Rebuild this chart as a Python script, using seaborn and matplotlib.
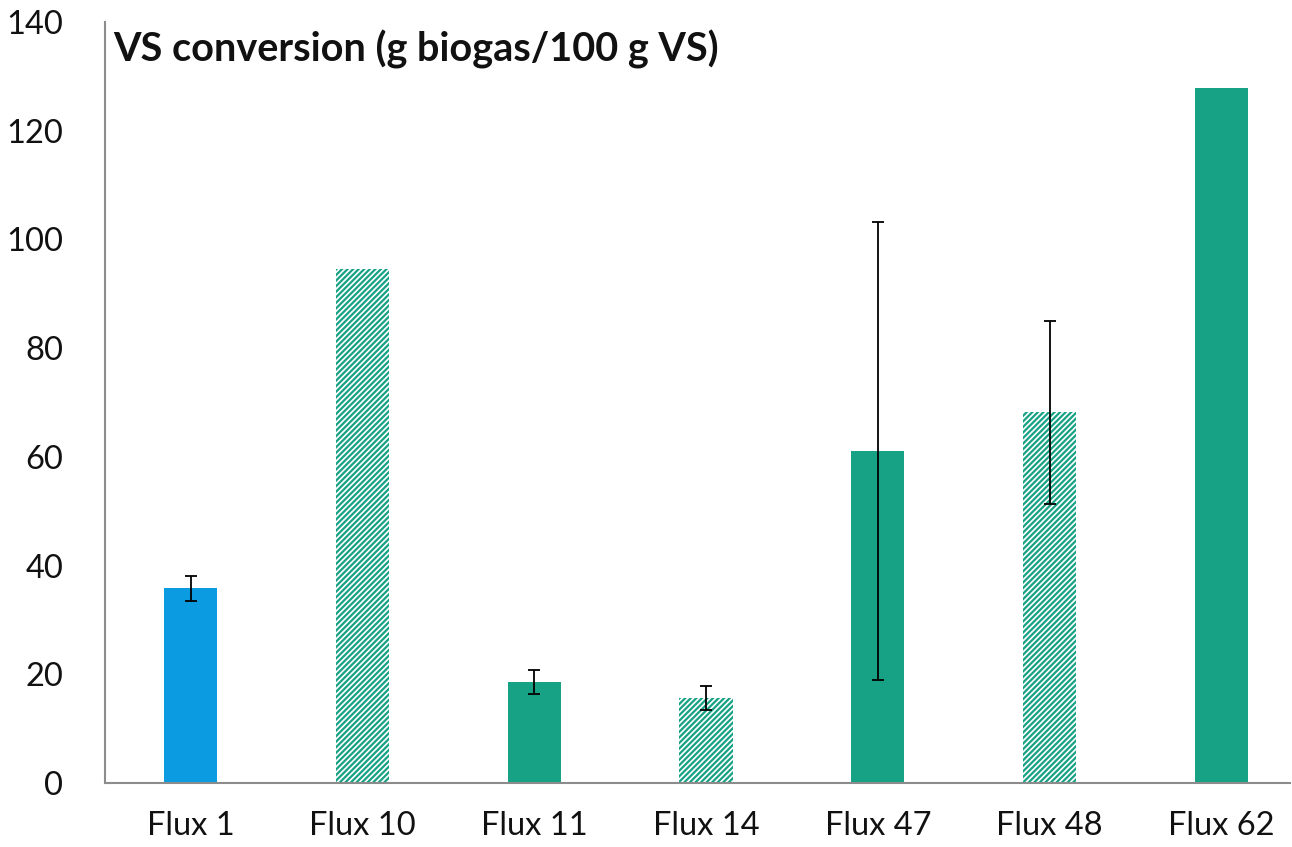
import matplotlib
matplotlib.use("Agg")
import matplotlib.pyplot as plt
import seaborn as sns
import numpy as np
import pandas as pd

# values
samples = ["Flux 1", "Flux 10", "Flux 11", "Flux 14", "Flux 47", "Flux 48", "Flux 62"]
vs_conversion = [35.8, 94.6, 18.5, 15.7, 61.1, 68.2, 127.9]
std_dev = [2.3, 0, 2.2, 2.2, 42.1, 16.8, 0]
striped = [False, True, False, True, False, True, False]

BLUE = "#0a9be0"
GREEN = "#17a185"
bar_colors = [BLUE] + [GREEN] * 6

sns.set_theme(style="white")
plt.rcParams["font.family"] = ["Lato", "DejaVu Sans"]
plt.rcParams["hatch.linewidth"] = 1.6

df = pd.DataFrame({"sample": samples, "value": vs_conversion})

fig = plt.figure(figsize=(12.92, 8.47), dpi=100)
ax = fig.add_axes([105 / 1292, 64 / 847, (1290 - 105) / 1292, (783 - 22) / 847])

sns.barplot(data=df, x="sample", y="value", hue="sample", palette=bar_colors,
            width=0.31, legend=False, ax=ax, saturation=1, errorbar=None)

for patch, hatch, col in zip(ax.patches, striped, bar_colors):
    patch.set_linewidth(0)
    if hatch:
        patch.set_facecolor("white")
        patch.set_edgecolor(col)
        patch.set_hatch("//////")

x = np.arange(len(samples))
err = np.array(std_dev)
mask = err > 0
ax.errorbar(x[mask], np.array(vs_conversion)[mask], yerr=err[mask], fmt="none",
            ecolor="black", elinewidth=1.3, capsize=4, capthick=1.3)

ax.set_xlim(-0.5, 6.4)
ax.set_ylim(0, 140)
ax.set_yticks(range(0, 141, 20))
ax.set_xlabel("")
ax.set_ylabel("")
ax.tick_params(axis="both", length=0, labelsize=23.5, colors="#111111")
ax.tick_params(axis="x", pad=20)
ax.tick_params(axis="y", pad=30)
for side in ["top", "right"]:
    ax.spines[side].set_visible(False)
for side in ["left", "bottom"]:
    ax.spines[side].set_color("#8c8c8c")
    ax.spines[side].set_linewidth(1.5)

ax.text(0.007, 0.99, "VS conversion (g biogas/100 g VS)", transform=ax.transAxes,
        fontsize=28.5, fontweight="bold", va="top", ha="left", color="#111111")

fig.savefig("out.png", dpi=100)
